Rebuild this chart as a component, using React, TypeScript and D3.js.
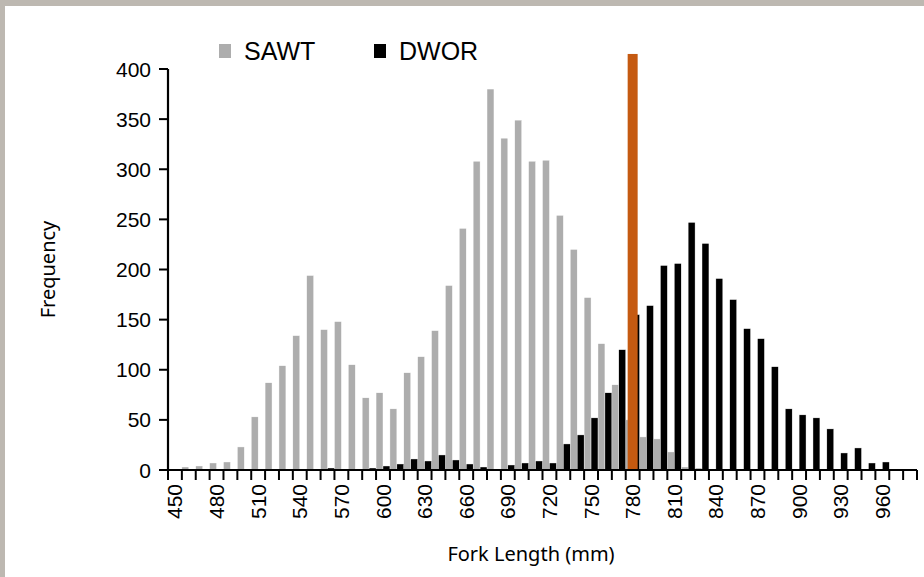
import React from "react";
import * as d3 from "d3";

const categories = [
  "450","460","470","480","490","500","510","520","530","540",
  "550","560","570","580","590","600","610","620","630","640",
  "650","660","670","680","690","700","710","720","730","740",
  "750","760","770","780","790","800","810","820","830","840",
  "850","860","870","880","890","900","910","920","930","940",
  "950","960","970","980",
];
const sawt = [
  0, 3, 4, 7, 8, 23, 53, 87, 104, 134,
  194, 140, 148, 105, 72, 77, 61, 97, 113, 139,
  184, 241, 308, 380, 331, 349, 308, 309, 254, 220,
  172, 126, 85, 50, 33, 31, 18, 3, 2, 1,
  0, 0, 0, 0, 0, 0, 0, 0, 0, 0,
  0, 0, 0, 0,
];
const dwor = [
  0, 0, 0, 0, 0, 0, 0, 0, 0, 0,
  0, 2, 0, 1, 2, 4, 6, 11, 9, 15,
  10, 6, 3, 1, 5, 7, 9, 7, 26, 35,
  52, 77, 120, 155, 164, 204, 206, 247, 226, 191,
  170, 141, 131, 103, 61, 55, 52, 41, 17, 22,
  7, 8, 1, 0,
];
const markerCategory = ["780"];
const markerValue = [415];
const yTicks = [0, 50, 100, 150, 200, 250, 300, 350, 400];
const xTickLabels = ["450","480","510","540","570","600","630","660","690","720","750","780","810","840","870","900","930","960"];
const seriesNames = ["SAWT", "DWOR"];
const seriesColors = ["#ADADAD", "#000000"];

export default function App() {
  const W = 924, H = 577;
  const left = 168, right = 917, top = 69, bottom = 470;
  const x = d3.scaleBand<string>().domain(categories).range([left, right]).padding(0);
  const inner = d3.scaleBand<string>().domain(seriesNames).range([0, x.bandwidth()]).padding(0);
  const y = d3.scaleLinear().domain([0, 400]).range([bottom, top]);
  const bw = x.bandwidth();
  const axisFont = "'Liberation Sans', Arial, sans-serif";
  const titleFont = "'Noto Sans', 'Open Sans', sans-serif";
  const series = [sawt, dwor];

  return (
    <svg width={W} height={H} style={{ position: "fixed", left: 0, top: 0, background: "#fff" }}>
      <rect x={0} y={0} width={W} height={H} fill="#BDB8B1" />
      <rect x={5} y={6} width={W - 5} height={H - 6} fill="#ffffff" />
      {series.map((vals, si) => (
        <g key={si}>
          {vals.map((v, i) => (
            v > 0 ? (
              <rect
                key={i}
                x={(x(categories[i]) as number) + (inner(seriesNames[si]) as number)}
                y={y(v)}
                width={inner.bandwidth()}
                height={y(0) - y(v)}
                fill={seriesColors[si]}
                stroke="#ffffff"
                strokeWidth={0.4}
              />
            ) : null
          ))}
        </g>
      ))}
      {markerCategory.map((c, i) => {
        const w = bw * 0.72;
        return (
          <rect key={c} x={(x(c) as number) + (bw - w) / 2} y={y(markerValue[i])} width={w}
            height={y(0) - y(markerValue[i])} fill="#C55A11" />
        );
      })}
      {/* y axis */}
      <line x1={left} x2={left} y1={top} y2={bottom + 1} stroke="#000" strokeWidth={2.2} />
      {yTicks.map((t) => (
        <g key={t}>
          <line x1={left - 9} x2={left} y1={y(t)} y2={y(t)} stroke="#000" strokeWidth={2} />
          <text x={left - 17} y={y(t)} dy="0.36em" textAnchor="end" fontSize={21} fontFamily={axisFont} fill="#000">{t}</text>
        </g>
      ))}
      {/* x axis */}
      <line x1={left - 1} x2={right} y1={bottom} y2={bottom} stroke="#000" strokeWidth={2.2} />
      {categories.map((c) => (
        <line key={c} x1={x(c) as number} x2={x(c) as number} y1={bottom} y2={bottom + 10} stroke="#000" strokeWidth={2} />
      ))}
      <line x1={right} x2={right} y1={bottom} y2={bottom + 10} stroke="#000" strokeWidth={2} />
      {xTickLabels.map((c) => {
        const cx = (x(c) as number) + bw / 2;
        return (
          <text key={c} transform={`translate(${cx},${bottom + 14}) rotate(-90)`} textAnchor="end" dy="0.36em"
            fontSize={21} fontFamily={axisFont} fill="#000">{c}</text>
        );
      })}
      <text transform={`translate(48,${(top + bottom) / 2}) rotate(-90)`} textAnchor="middle" dy="0.35em"
        fontSize={20} fontFamily={titleFont} fill="#000">Frequency</text>
      <text x={531} y={561} textAnchor="middle" fontSize={20} fontFamily={titleFont} fill="#000">Fork Length (mm)</text>
      {/* legend */}
      {seriesNames.map((s, i) => {
        const lx = 219 + i * 155;
        return (
          <g key={s}>
            <rect x={lx} y={44} width={12} height={14} fill={seriesColors[i]} />
            <text x={lx + 25} y={60} fontSize={25} fontFamily={axisFont} fill="#000">{s}</text>
          </g>
        );
      })}
    </svg>
  );
}
